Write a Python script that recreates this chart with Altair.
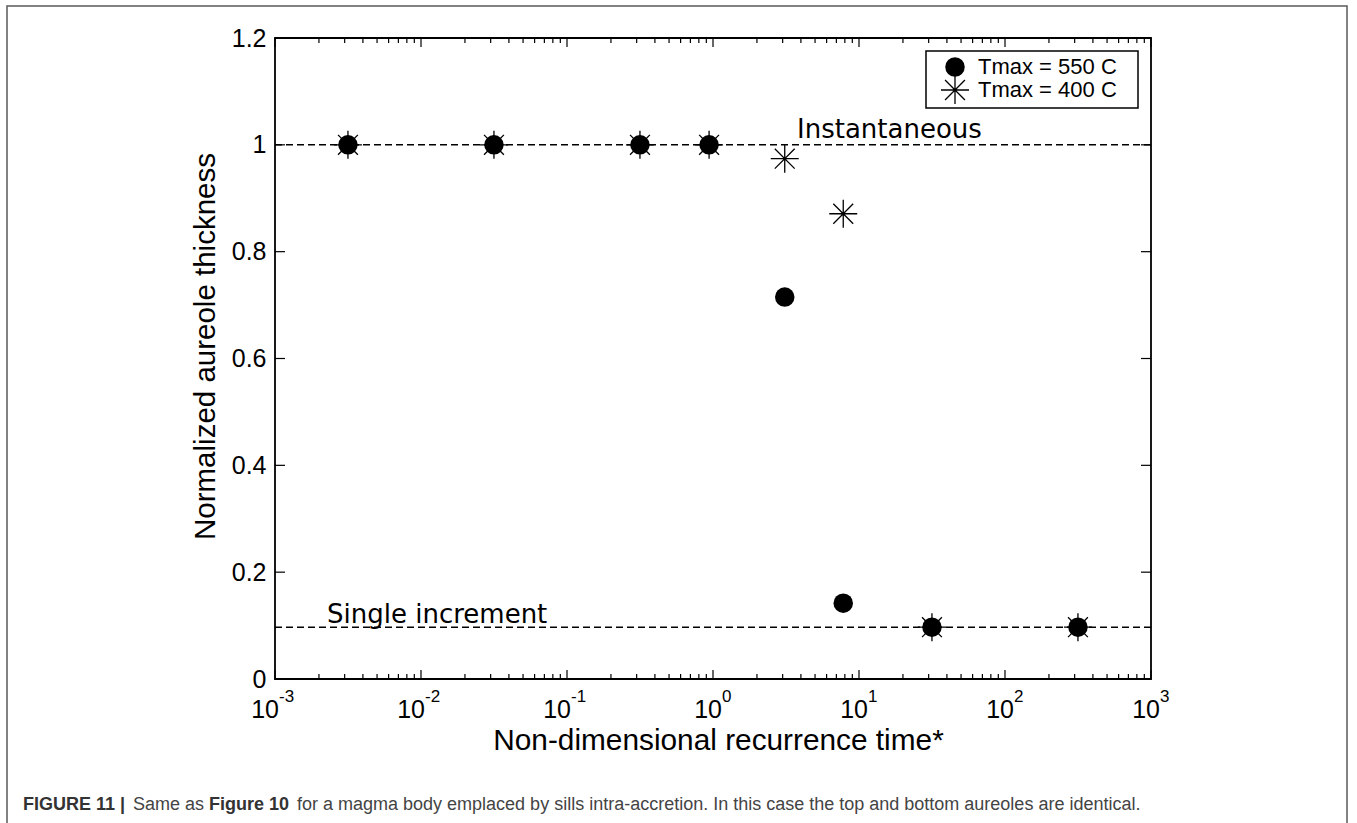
import altair as alt
import pandas as pd

# ---- data ----
recurrence_time = [0.00316, 0.0316, 0.316, 0.94, 3.1, 7.8, 31.6, 316]
thickness_550 = [1.0, 1.0, 1.0, 1.0, 0.715, 0.142, 0.097, 0.097]
thickness_400 = [1.0, 1.0, 1.0, 1.0, 0.974, 0.871, 0.097, 0.097]
ref_levels = [1.0, 0.097]
y_ticks = [0, 0.2, 0.4, 0.6, 0.8, 1.0, 1.2]
x_major_exp = [-3, -2, -1, 0, 1, 2, 3]
x_minor = [m * 10.0 ** e for e in range(-3, 3) for m in range(2, 10)]
series_labels = ["Tmax = 550 C", "Tmax = 400 C"]
caption_parts = [
    ("FIGURE 11 |", "bold"),
    ("Same as", "normal"),
    ("Figure 10", "bold"),
    ("for a magma body emplaced by sills intra-accretion. In this case the top and bottom aureoles are identical.", "normal"),
]

W, H = 876, 641
FONT = "Liberation Sans"
ASTERISK = "M-1,0L1,0M0,-1L0,1M-0.71,-0.71L0.71,0.71M-0.71,0.71L0.71,-0.71"

xscale = alt.Scale(type="log", domain=[0.001, 1000])
yscale = alt.Scale(domain=[0, 1.2], nice=False, zero=False)

x_axis = alt.Axis(
    title="Non-dimensional recurrence time*", labels=False, ticks=False, domain=False, grid=False,
    titleFont=FONT, titleFontSize=29.8, titleFontWeight="normal", titleColor="black",
    titleX=443, titleY=61, titleBaseline="middle", titleAlign="center")
y_axis = alt.Axis(
    title="Normalized aureole thickness", values=y_ticks, format="~g", ticks=False, domain=False, grid=False,
    labelFont=FONT, labelFontSize=25, labelColor="black", labelPadding=9,
    titleFont=FONT, titleFontSize=29.5, titleFontWeight="normal", titleColor="black",
    titleX=-70, titleY=308, titleAngle=270, titleBaseline="middle", titleAlign="center")

pts = pd.DataFrame({"t": recurrence_time, "y550": thickness_550, "y400": thickness_400})
refs = pd.DataFrame({"level": ref_levels})
yt = pd.DataFrame({"v": y_ticks})
xmaj = pd.DataFrame({"v": [10.0 ** e for e in x_major_exp], "e": [str(e) for e in x_major_exp], "b": ["10"] * len(x_major_exp)})
xneg = xmaj[xmaj["e"].str.startswith("-")]
xpos = xmaj[~xmaj["e"].str.startswith("-")]
xmin = pd.DataFrame({"v": x_minor})
one = pd.DataFrame({"a": [0]})


def X(field="v"):
    return alt.X(f"{field}:Q", scale=xscale, axis=x_axis)


def Y(field="v"):
    return alt.Y(f"{field}:Q", scale=yscale, axis=y_axis)


frame = alt.Chart(one).mark_rect(fillOpacity=0, stroke="#5a5a5a", strokeWidth=1.5).encode(
    x=alt.value(-268), x2=alt.value(1072), y=alt.value(-32), y2=alt.value(900))

circles = alt.Chart(pts).mark_point(shape="circle", filled=True, color="black", size=380, opacity=1).encode(
    x=X("t"), y=Y("y550"))

stars = alt.Chart(pts).mark_point(shape=ASTERISK, filled=False, color="black", strokeWidth=1.3, size=784, opacity=1).encode(
    x=X("t"), y=Y("y400"))

ref_lines = alt.Chart(refs).mark_rule(color="black", strokeWidth=1.5, strokeDash=[7, 4]).encode(
    y=Y("level"), x=alt.value(0), x2=alt.value(W))

tick_style = dict(color="black", strokeWidth=1.2)
xt_bot = alt.Chart(xmaj).mark_rule(**tick_style).encode(x=X(), y=alt.value(H), y2=alt.value(H - 9))
xt_top = alt.Chart(xmaj).mark_rule(**tick_style).encode(x=X(), y=alt.value(0), y2=alt.value(9))
xm_bot = alt.Chart(xmin).mark_rule(**tick_style).encode(x=X(), y=alt.value(H), y2=alt.value(H - 5))
xm_top = alt.Chart(xmin).mark_rule(**tick_style).encode(x=X(), y=alt.value(0), y2=alt.value(5))
yt_left = alt.Chart(yt).mark_rule(**tick_style).encode(y=Y(), x=alt.value(0), x2=alt.value(10))
yt_right = alt.Chart(yt).mark_rule(**tick_style).encode(y=Y(), x=alt.value(W), x2=alt.value(W - 10))

lab_style = dict(font=FONT, color="black")
xb_neg = alt.Chart(xneg).mark_text(align="right", baseline="middle", fontSize=25, dx=4, **lab_style).encode(
    x=X(), y=alt.value(672), text="b:N")
xe_neg = alt.Chart(xneg).mark_text(align="left", baseline="middle", fontSize=17, dx=4, **lab_style).encode(
    x=X(), y=alt.value(659), text="e:N")
xb_pos = alt.Chart(xpos).mark_text(align="right", baseline="middle", fontSize=25, dx=9, **lab_style).encode(
    x=X(), y=alt.value(672), text="b:N")
xe_pos = alt.Chart(xpos).mark_text(align="left", baseline="middle", fontSize=17, dx=9, **lab_style).encode(
    x=X(), y=alt.value(659), text="e:N")

inst = alt.Chart(one).mark_text(align="left", baseline="alphabetic", font="DejaVu Sans", fontSize=26, color="black",
                                text="Instantaneous").encode(x=alt.value(522), y=alt.value(100))
single = alt.Chart(one).mark_text(align="left", baseline="alphabetic", font="DejaVu Sans", fontSize=26, color="black",
                                  text="Single increment").encode(x=alt.value(52), y=alt.value(585))

leg_box = alt.Chart(one).mark_rect(fill="white", stroke="black", strokeWidth=1.5).encode(
    x=alt.value(651), x2=alt.value(863), y=alt.value(13), y2=alt.value(70))
leg_c = alt.Chart(one).mark_point(shape="circle", filled=True, color="black", size=380, opacity=1).encode(
    x=alt.value(680), y=alt.value(29))
leg_s = alt.Chart(one).mark_point(shape=ASTERISK, filled=False, color="black", strokeWidth=1.3, size=784, opacity=1).encode(
    x=alt.value(680), y=alt.value(52))
leg_t1 = alt.Chart(one).mark_text(align="left", baseline="middle", fontSize=22, text=series_labels[0], **lab_style).encode(
    x=alt.value(703), y=alt.value(29))
leg_t2 = alt.Chart(one).mark_text(align="left", baseline="middle", fontSize=22, text=series_labels[1], **lab_style).encode(
    x=alt.value(703), y=alt.value(52))

cap_x = [-252, -142, -66, 22]
cap_layers = []
for (txt, wt), cx in zip(caption_parts, cap_x):
    cap_layers.append(
        alt.Chart(one).mark_text(align="left", baseline="middle", font=FONT, fontSize=18, fontWeight=wt,
                                 color="#333333" if wt == "bold" else "#444444", text=txt).encode(
            x=alt.value(cx), y=alt.value(767)))

chart = alt.layer(
    frame, circles, stars, ref_lines, xt_bot, xt_top, xm_bot, xm_top, yt_left, yt_right,
    xb_neg, xe_neg, xb_pos, xe_pos, inst, single,
    leg_box, leg_c, leg_s, leg_t1, leg_t2, *cap_layers,
).properties(
    width=W, height=H,
    autosize=alt.AutoSizeParams(type="none"),
    padding={"left": 275, "top": 38, "right": 206, "bottom": 144},
    background="white",
).configure_view(stroke="black", strokeWidth=1.8)

chart.save("out.html", embed_options={"renderer": "svg", "actions": False})
